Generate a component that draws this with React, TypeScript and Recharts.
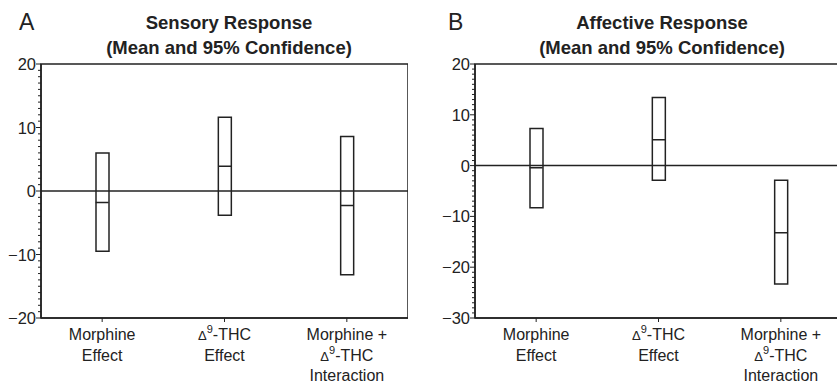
import React from "react";
import {
  Bar,
  ComposedChart,
  ReferenceArea,
  ReferenceLine,
  Scatter,
  XAxis,
  YAxis,
} from "recharts";

// categories and the label lines drawn under each one
const categories = ["morphine", "thc", "interaction"];
const categoryLabels: Record<string, string[]> = {
  morphine: ["Morphine", "Effect"],
  thc: ["Δ9-THC", "Effect"],
  interaction: ["Morphine +", "Δ9-THC", "Interaction"],
};

// panel A: sensory response, mean and 95% CI
const sensoryMean = [-1.8, 3.9, -2.3];
const sensoryLow = [-9.5, -3.8, -13.2];
const sensoryHigh = [6.0, 11.6, 8.6];

// panel B: affective response
const affectiveMean = [-0.4, 5.1, -13.2];
const affectiveLow = [-8.3, -2.9, -23.3];
const affectiveHigh = [7.3, 13.4, -2.9];

const sensoryMajorTicks = [-20, -10, 0, 10, 20];
const affectiveMajorTicks = [-30, -20, -10, 0, 10, 20];

const INK = "#222";
const FONT = "'Liberation Sans', Arial, Helvetica, sans-serif";

type Row = { key: string; mean: number; lo: number; hi: number };

function buildRows(mean: number[], lo: number[], hi: number[]): Row[] {
  return categories.map((key, i) => ({
    key,
    mean: mean[i],
    lo: lo[i],
    hi: hi[i],
  }));
}

// every unit between the first and last major tick gets a minor tick
function minorTicks(major: number[]): number[] {
  const out: number[] = [];
  for (let v = major[0]; v <= major[major.length - 1]; v++) out.push(v);
  return out;
}

const fmt = (v: number) => (v < 0 ? `\u2212${Math.abs(v)}` : String(v));

function YTick(props: any) {
  const { x, y, payload } = props;
  const v = payload.value as number;
  const major = v % 10 === 0;
  return (
    <g>
      <line x1={x - (major ? 5 : 3)} x2={x} y1={y} y2={y} stroke={INK} strokeWidth={1} />
      {major && (
        <text
          x={x - 5}
          y={y}
          dy={6}
          textAnchor="end"
          fontSize={16.5}
          fontFamily={FONT}
          fill={INK}
        >
          {fmt(v)}
        </text>
      )}
    </g>
  );
}

function LabelLine({ text, x, y }: { text: string; x: number; y: number }) {
  if (text.startsWith("Δ9")) {
    return (
      <text x={x} y={y} textAnchor="middle" fontSize={16} fontFamily={FONT} fill={INK}>
        <tspan fontSize={13}>Δ</tspan>
        <tspan fontSize={11} dy={-7}>9</tspan>
        <tspan dy={7}>{text.slice(2)}</tspan>
      </text>
    );
  }
  return (
    <text x={x} y={y} textAnchor="middle" fontSize={16} fontFamily={FONT} fill={INK}>
      {text}
    </text>
  );
}

function XTick(props: any) {
  const { x, y, payload } = props;
  const lines = categoryLabels[payload.value] ?? [];
  return (
    <g>
      {lines.map((line, i) => (
        <LabelLine key={i} text={line} x={x} y={y + 16 + i * 20.5} />
      ))}
    </g>
  );
}

function MeanMark(props: any) {
  const { cx, cy } = props;
  return <line x1={cx - 6.5} x2={cx + 6.5} y1={cy} y2={cy} stroke={INK} strokeWidth={1.5} />;
}

type PanelProps = {
  rows: Row[];
  domain: [number, number];
  majorTicks: number[];
  width: number;
  yAxisWidth: number;
};

function Panel({ rows, domain, majorTicks, width, yAxisWidth }: PanelProps) {
  return (
    <ComposedChart
      width={width}
      height={384}
      data={rows}
      margin={{ top: 64, right: 0, bottom: 0, left: 0 }}
    >
      <XAxis
        dataKey="key"
        type="category"
        height={66}
        tickSize={4}
        tickMargin={2}
        tickLine={{ stroke: INK }}
        axisLine={{ stroke: INK, strokeWidth: 1.5 }}
        tick={<XTick />}
        interval={0}
      />
      <YAxis
        domain={domain}
        ticks={minorTicks(majorTicks)}
        interval={0}
        width={yAxisWidth}
        tickSize={0}
        tickMargin={0}
        tickLine={false}
        axisLine={{ stroke: INK, strokeWidth: 1.5 }}
        tick={<YTick />}
        allowDataOverflow
      />
      <ReferenceArea
        y1={domain[0]}
        y2={domain[1]}
        fill="none"
        stroke={INK}
        strokeWidth={1.5}
        ifOverflow="visible"
      />
      <ReferenceLine y={0} stroke={INK} strokeWidth={1.5} />
      <Bar
        dataKey={(d: Row) => [d.lo, d.hi]}
        barSize={13}
        fill="none"
        stroke={INK}
        strokeWidth={1.5}
        isAnimationActive={false}
      />
      <Scatter dataKey="mean" shape={<MeanMark />} isAnimationActive={false} />
    </ComposedChart>
  );
}

const titleStyle: React.CSSProperties = {
  position: "absolute",
  top: 10,
  width: 400,
  textAlign: "center",
  fontFamily: FONT,
  fontWeight: 700,
  fontSize: 18.5,
  lineHeight: "25px",
  color: INK,
};

const letterStyle: React.CSSProperties = {
  position: "absolute",
  top: 7,
  fontFamily: FONT,
  fontSize: 23,
  lineHeight: "30px",
  color: INK,
};

export default function App() {
  const sensory = buildRows(sensoryMean, sensoryLow, sensoryHigh);
  const affective = buildRows(affectiveMean, affectiveLow, affectiveHigh);

  return (
    <div
      style={{
        position: "absolute",
        left: 0,
        top: 0,
        width: 837,
        height: 384,
        overflow: "hidden",
        background: "#fff",
      }}
    >
      <div style={{ ...letterStyle, left: 19 }}>A</div>
      <div style={{ ...letterStyle, left: 448 }}>B</div>
      <div style={{ ...titleStyle, left: 29 }}>
        Sensory Response
        <br />
        (Mean and 95% Confidence)
      </div>
      <div style={{ ...titleStyle, left: 462 }}>
        Affective Response
        <br />
        (Mean and 95% Confidence)
      </div>
      <div style={{ position: "absolute", left: 0, top: 0 }}>
        <Panel
          rows={sensory}
          domain={[-20, 20]}
          majorTicks={sensoryMajorTicks}
          width={408}
          yAxisWidth={41}
        />
      </div>
      <div style={{ position: "absolute", left: 420, top: 0 }}>
        <Panel
          rows={affective}
          domain={[-30, 20]}
          majorTicks={affectiveMajorTicks}
          width={422}
          yAxisWidth={55}
        />
      </div>
    </div>
  );
}
